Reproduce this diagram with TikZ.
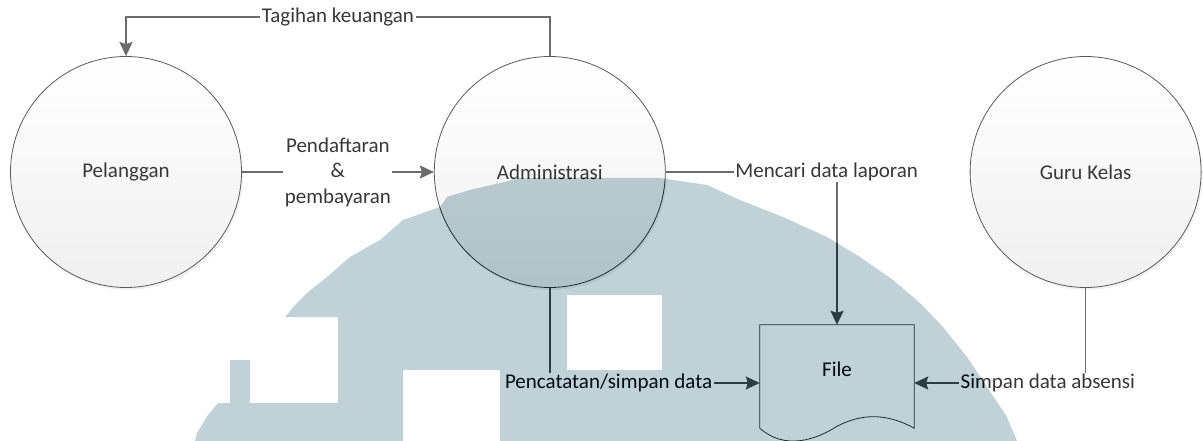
\documentclass[tikz,border=0pt]{standalone}
\usepackage{fontspec}
\setmainfont{Carlito}
\usetikzlibrary{arrows.meta,positioning,shadows}
\definecolor{dfdline}{HTML}{6B6B6B}
\definecolor{dfdtext}{HTML}{383838}
\definecolor{dfdedge}{HTML}{5A5A5A}
\definecolor{dfdmark}{HTML}{3F2D27}

\begin{document}
\begin{tikzpicture}[x=1pt,y=-1pt,
  font=\fontsize{21}{25.5}\selectfont,text=dfdtext,
  node distance=192pt,
  ent/.style={circle,draw=dfdedge,line width=0.8pt,minimum size=231pt,inner sep=0pt,
    top color=white,bottom color=black!6,
    drop shadow={opacity=0.1,shadow xshift=1.5pt,shadow yshift=-2.5pt}},
  filebox/.style={minimum width=154pt,minimum height=116pt,inner sep=0pt,
    text height=15pt,text depth=27.6pt},
  arr/.style={-{Stealth[length=14pt,width=13pt,inset=2pt]},dfdline,line width=1.6pt},
  lab/.style={fill=white,inner xsep=1.5pt,inner ysep=1pt,align=center,text=dfdtext}]
\fill[white] (0,0) rectangle (1203,441);
\useasboundingbox (0,0) rectangle (1203,441);
\node[ent] (pel) at (126,172) {Pelanggan};
\node[ent,right=of pel] (adm) {Administrasi};
\node[ent,right=304pt of adm] (guru) {Guru Kelas};
\node[filebox] (file) at (837,383) {File};
% document symbol
\draw[dfdedge,line width=0.8pt] (file.north west) -- (file.north east) -- ([yshift=13pt]file.south east)
  .. controls +(-29,-16) and +(23,-12) .. ++(-77,-2)
  .. controls +(-22,14) and +(25,22) .. ([yshift=13pt]file.south west) -- cycle;
% flows
\draw[arr] (pel) -- node[lab] {Pendaftaran\\\&\\pembayaran} (adm);
\draw[arr] (adm.north) -- ++(0,-39) -| node[lab,pos=0.25] {Tagihan keuangan} (pel.north);
\draw[arr] (adm.east) -| node[lab,pos=0.47] {Mencari data laporan} (file.north);
\draw[arr] (adm.south) |- node[lab,pos=0.64] {Pencatatan/simpan data} (file.west);
\draw[arr] (guru.south) |- node[lab,pos=0.61] {Simpan data absensi} (file.east);
% watermark
\begin{scope}[blend mode=difference]
\fill[dfdmark,even odd rule] (195,441) -- (197,433) -- (208,415) -- (218,403) -- (230,403)
  -- (230,360) -- (250,360) -- (250,403) -- (338,403) -- (338,317) -- (285,317) -- (295,305)
  -- (307,293) -- (327,277) -- (350,257) -- (380,240) -- (403,220) -- (440,207) -- (447,197)
  -- (470,190) -- (500,183) -- (520,178) -- (660,178) -- (707,185) -- (740,200) -- (783,217)
  -- (827,237) -- (860,257) -- (893,280) -- (920,303) -- (943,327) -- (967,357) -- (987,387)
  -- (1007,417) -- (1017,441) -- cycle
  (403,370) rectangle (500,441) (567,295) rectangle (662,370);
\end{scope}
\end{tikzpicture}
\end{document}
